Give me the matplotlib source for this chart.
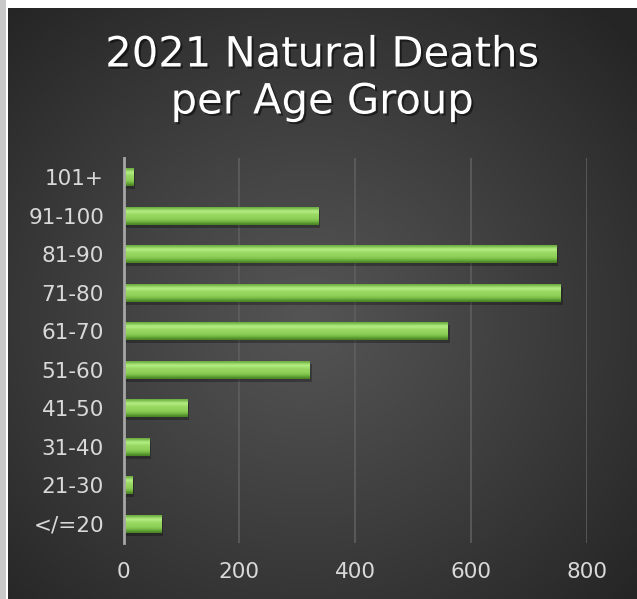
import numpy as np
import matplotlib
matplotlib.use("Agg")
import matplotlib.pyplot as plt
import matplotlib.patheffects as pe

# chart data
groups = ["</=20", "21-30", "31-40", "41-50", "51-60", "61-70", "71-80", "81-90", "91-100", "101+"]
deaths = [64, 14, 44, 109, 321, 559, 754, 746, 335, 16]
xticks = [0, 200, 400, 600, 800]
title = "2021 Natural Deaths\nper Age Group"


def draw_background(fig):
    # white frame with light gray strip on the left, dark radial panel
    fig.patch.set_facecolor("white")
    strip = fig.add_axes([0, 0, 6 / 637, 1])
    strip.set_axis_off()
    strip.add_patch(plt.Rectangle((0, 0), 1, 1, color="#c9c9c9", transform=strip.transAxes))

    panel = fig.add_axes([8 / 637, 0, 1 - 8 / 637, 1 - 8 / 599])
    panel.set_axis_off()
    yy, xx = np.mgrid[-1:1:300j, -1:1:300j]
    r = np.sqrt((xx + 0.05) ** 2 + (yy + 0.05) ** 2) / np.sqrt(2)
    lo = np.array([0x54, 0x54, 0x54]) / 255
    hi = np.array([0x25, 0x25, 0x25]) / 255
    t = np.clip(r ** 1.1, 0, 1)[..., None]
    img = lo * (1 - t) + hi * t
    panel.imshow(img, extent=(0, 1, 0, 1), aspect="auto", origin="lower")
    panel.set_xlim(0, 1)
    panel.set_ylim(0, 1)


def main():
    fig = plt.figure(figsize=(6.37, 5.99), dpi=100)
    draw_background(fig)

    ax = fig.add_axes([123.5 / 637, 1 - 543 / 599, (587 - 123.5) / 637, (543 - 158) / 599])
    ax.patch.set_alpha(0)
    ypos = np.arange(len(groups))
    h = 0.46

    # shadows
    ax.barh(ypos - 0.08, np.array(deaths) + 4, height=h, left=0, color="black", alpha=0.28, zorder=2)

    # bar gradient (vertical bevel look)
    grad = np.array([
        [0x4a, 0x84, 0x26], [0x66, 0xa8, 0x38], [0x80, 0xc2, 0x4c], [0x8e, 0xcf, 0x58],
        [0x94, 0xd4, 0x5e], [0x96, 0xd6, 0x60], [0xa2, 0xe0, 0x6c], [0xb8, 0xf0, 0x8c],
        [0x9c, 0xda, 0x68], [0x6c, 0xac, 0x40],
    ]) / 255
    grad = grad[:, None, :]
    for y, v in zip(ypos, deaths):
        ax.imshow(grad, extent=(0, v, y - h / 2, y + h / 2), aspect="auto",
                  origin="lower", interpolation="bicubic", zorder=3)

    ax.set_xlim(0, 800)
    ax.set_ylim(-0.5, len(groups) - 0.5)
    ax.set_aspect("auto")
    ax.set_xticks(xticks)
    ax.set_yticks(ypos)
    ax.set_yticklabels(groups)
    ax.tick_params(axis="both", length=0, labelsize=15.5, labelcolor="#d9d9d9")
    ax.tick_params(axis="y", pad=14)
    ax.tick_params(axis="x", pad=14)

    ax.grid(axis="x", color="#5e5e5e", linewidth=1.2, zorder=0)
    ax.set_axisbelow(True)
    for s in ["top", "right", "bottom"]:
        ax.spines[s].set_visible(False)
    ax.spines["left"].set_color("#a6a6a6")
    ax.spines["left"].set_linewidth(2)
    ax.spines["left"].set_zorder(4)

    fig.text(322 / 637, 1 - 78 / 599, title, ha="center", va="center", fontsize=30,
             color="white", linespacing=1.15,
             path_effects=[pe.withSimplePatchShadow(offset=(1.5, -1.5), shadow_rgbFace="black", alpha=0.5)])

    fig.savefig("out.png", dpi=100, facecolor=fig.get_facecolor())


if __name__ == "__main__":
    main()
